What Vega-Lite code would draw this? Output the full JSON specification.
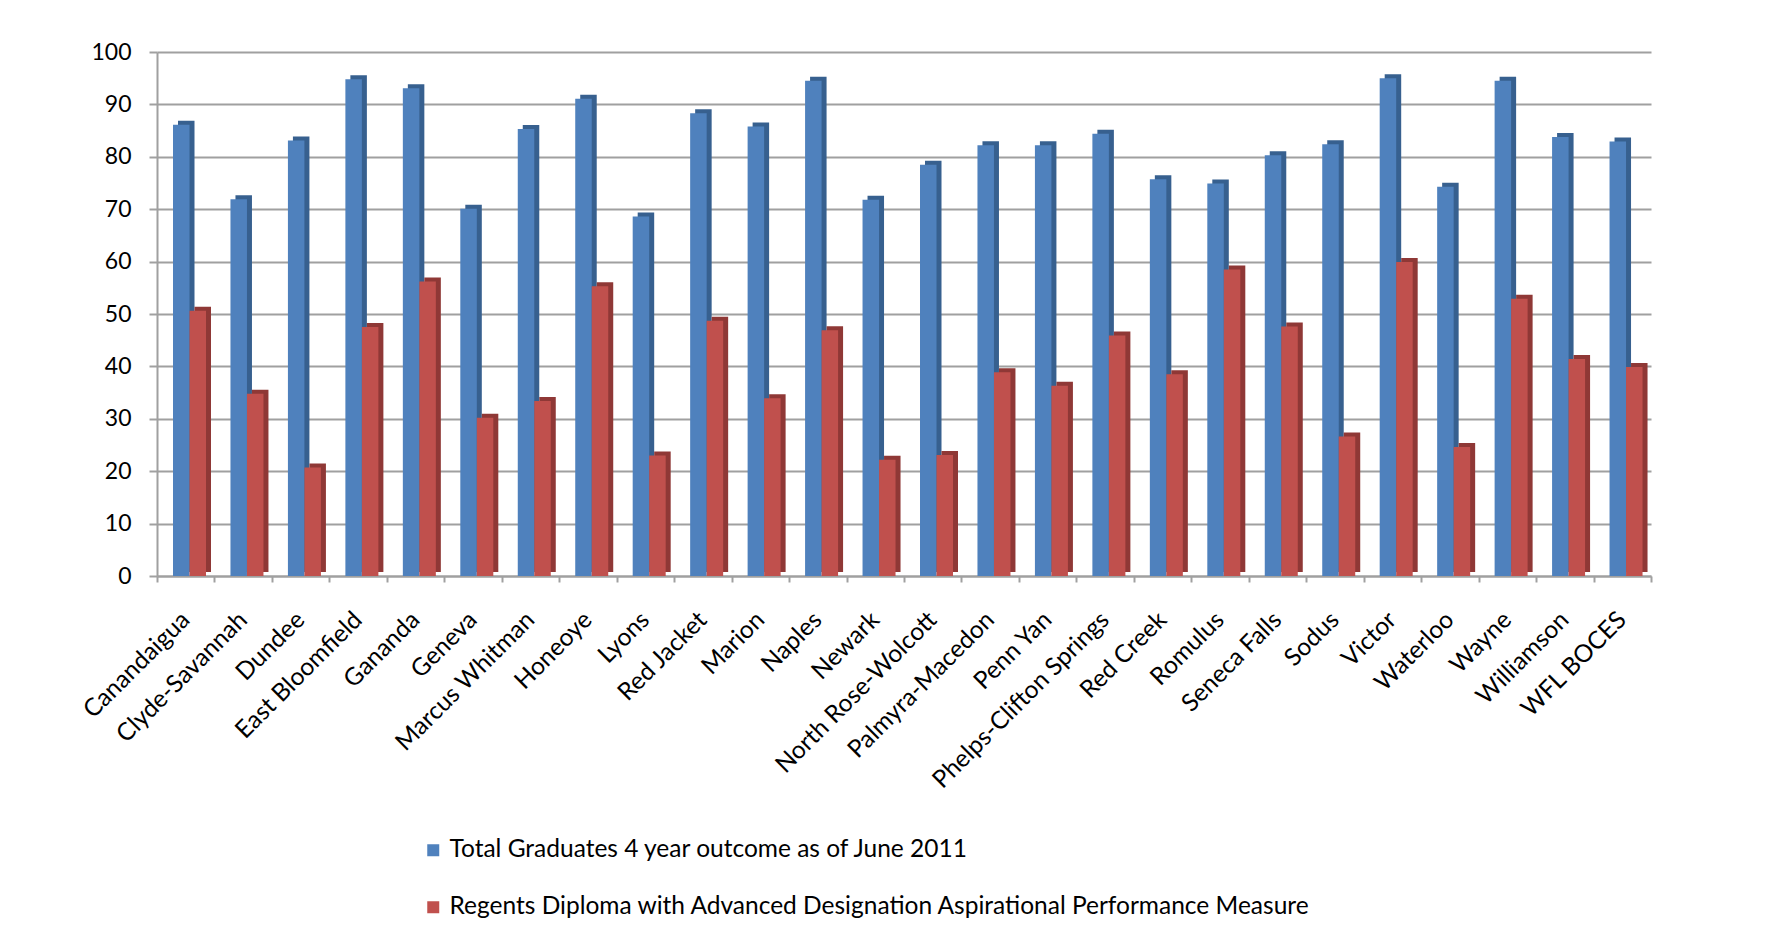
{
  "$schema": "https://vega.github.io/schema/vega-lite/v6.json",
  "width": 1494,
  "height": 524,
  "autosize": {"type": "none"},
  "padding": {"left": 157, "top": 52, "right": 130, "bottom": 373},
  "background": "white",
  "config": {"view": {"stroke": null}, "font": "Lato"},
  "data": {
    "values": [
      {"district": "Canandaigua", "Total Graduates 4 year outcome as of June 2011": 86.1, "Regents Diploma with Advanced Designation Aspirational Performance Measure": 50.6},
      {"district": "Clyde-Savannah", "Total Graduates 4 year outcome as of June 2011": 71.9, "Regents Diploma with Advanced Designation Aspirational Performance Measure": 34.8},
      {"district": "Dundee", "Total Graduates 4 year outcome as of June 2011": 83.1, "Regents Diploma with Advanced Designation Aspirational Performance Measure": 20.7},
      {"district": "East Bloomfield", "Total Graduates 4 year outcome as of June 2011": 94.8, "Regents Diploma with Advanced Designation Aspirational Performance Measure": 47.5},
      {"district": "Gananda", "Total Graduates 4 year outcome as of June 2011": 93.1, "Regents Diploma with Advanced Designation Aspirational Performance Measure": 56.2},
      {"district": "Geneva", "Total Graduates 4 year outcome as of June 2011": 70.1, "Regents Diploma with Advanced Designation Aspirational Performance Measure": 30.2},
      {"district": "Marcus Whitman", "Total Graduates 4 year outcome as of June 2011": 85.3, "Regents Diploma with Advanced Designation Aspirational Performance Measure": 33.4},
      {"district": "Honeoye", "Total Graduates 4 year outcome as of June 2011": 91.1, "Regents Diploma with Advanced Designation Aspirational Performance Measure": 55.3},
      {"district": "Lyons", "Total Graduates 4 year outcome as of June 2011": 68.6, "Regents Diploma with Advanced Designation Aspirational Performance Measure": 23.0},
      {"district": "Red Jacket", "Total Graduates 4 year outcome as of June 2011": 88.3, "Regents Diploma with Advanced Designation Aspirational Performance Measure": 48.7},
      {"district": "Marion", "Total Graduates 4 year outcome as of June 2011": 85.8, "Regents Diploma with Advanced Designation Aspirational Performance Measure": 33.9},
      {"district": "Naples", "Total Graduates 4 year outcome as of June 2011": 94.5, "Regents Diploma with Advanced Designation Aspirational Performance Measure": 46.9},
      {"district": "Newark", "Total Graduates 4 year outcome as of June 2011": 71.8, "Regents Diploma with Advanced Designation Aspirational Performance Measure": 22.2},
      {"district": "North Rose-Wolcott", "Total Graduates 4 year outcome as of June 2011": 78.5, "Regents Diploma with Advanced Designation Aspirational Performance Measure": 23.1},
      {"district": "Palmyra-Macedon", "Total Graduates 4 year outcome as of June 2011": 82.2, "Regents Diploma with Advanced Designation Aspirational Performance Measure": 38.9},
      {"district": "Penn Yan", "Total Graduates 4 year outcome as of June 2011": 82.2, "Regents Diploma with Advanced Designation Aspirational Performance Measure": 36.3},
      {"district": "Phelps-Clifton Springs", "Total Graduates 4 year outcome as of June 2011": 84.4, "Regents Diploma with Advanced Designation Aspirational Performance Measure": 45.9},
      {"district": "Red Creek", "Total Graduates 4 year outcome as of June 2011": 75.7, "Regents Diploma with Advanced Designation Aspirational Performance Measure": 38.5},
      {"district": "Romulus", "Total Graduates 4 year outcome as of June 2011": 74.9, "Regents Diploma with Advanced Designation Aspirational Performance Measure": 58.5},
      {"district": "Seneca Falls", "Total Graduates 4 year outcome as of June 2011": 80.3, "Regents Diploma with Advanced Designation Aspirational Performance Measure": 47.6},
      {"district": "Sodus", "Total Graduates 4 year outcome as of June 2011": 82.4, "Regents Diploma with Advanced Designation Aspirational Performance Measure": 26.6},
      {"district": "Victor", "Total Graduates 4 year outcome as of June 2011": 95.0, "Regents Diploma with Advanced Designation Aspirational Performance Measure": 59.9},
      {"district": "Waterloo", "Total Graduates 4 year outcome as of June 2011": 74.3, "Regents Diploma with Advanced Designation Aspirational Performance Measure": 24.6},
      {"district": "Wayne", "Total Graduates 4 year outcome as of June 2011": 94.5, "Regents Diploma with Advanced Designation Aspirational Performance Measure": 52.9},
      {"district": "Williamson", "Total Graduates 4 year outcome as of June 2011": 83.8, "Regents Diploma with Advanced Designation Aspirational Performance Measure": 41.4},
      {"district": "WFL BOCES", "Total Graduates 4 year outcome as of June 2011": 82.9, "Regents Diploma with Advanced Designation Aspirational Performance Measure": 39.9}
    ]
  },
  "transform": [
    {"fold": ["Total Graduates 4 year outcome as of June 2011", "Regents Diploma with Advanced Designation Aspirational Performance Measure"], "as": ["series", "value"]}
  ],
  "encoding": {
    "x": {
      "field": "district",
      "type": "nominal",
      "sort": null,
      "scale": {"paddingInner": 0, "paddingOuter": 0},
      "axis": {
        "title": null,
        "labelAngle": -45,
        "labelAlign": "right",
        "labelBaseline": "middle",
        "labelFontSize": 24.5,
        "labelFont": "Lato",
        "labelColor": "black",
        "labelPadding": 34,
        "labelLimit": 400,
        "tickBand": "extent",
        "tickSize": 6,
        "tickColor": "#a0a0a0",
        "tickWidth": 2,
        "domainColor": "#a0a0a0",
        "domainWidth": 2,
        "grid": false
      }
    },
    "y": {
      "field": "value",
      "type": "quantitative",
      "scale": {"domain": [0, 100], "nice": false},
      "axis": {
        "title": null,
        "values": [0, 10, 20, 30, 40, 50, 60, 70, 80, 90, 100],
        "grid": true,
        "gridColor": "#a0a0a0",
        "gridWidth": 2,
        "domainColor": "#a0a0a0",
        "domainWidth": 2,
        "tickColor": "#a0a0a0",
        "tickWidth": 2,
        "tickSize": 8,
        "labelFontSize": 23,
        "labelFont": "Lato",
        "labelColor": "black",
        "labelPadding": 18
      }
    }
  },
  "layer": [
    {
      "mark": {"type": "bar", "yOffset": -4, "y2Offset": -4},
      "encoding": {
        "xOffset": {
          "field": "series",
          "type": "nominal",
          "scale": {
            "domain": ["Total Graduates 4 year outcome as of June 2011", "Regents Diploma with Advanced Designation Aspirational Performance Measure"],
            "range": [21, 54],
            "paddingInner": 0,
            "paddingOuter": 0
          }
        },
        "color": {
          "field": "series",
          "type": "nominal",
          "scale": {
            "domain": ["Total Graduates 4 year outcome as of June 2011", "Regents Diploma with Advanced Designation Aspirational Performance Measure"],
            "range": ["#37608f", "#8f3836"]
          },
          "legend": null
        }
      }
    },
    {
      "mark": {"type": "bar"},
      "encoding": {
        "xOffset": {
          "field": "series",
          "type": "nominal",
          "scale": {
            "domain": ["Total Graduates 4 year outcome as of June 2011", "Regents Diploma with Advanced Designation Aspirational Performance Measure"],
            "range": [16, 49],
            "paddingInner": 0,
            "paddingOuter": 0
          }
        },
        "color": {
          "field": "series",
          "type": "nominal",
          "scale": {
            "domain": ["Total Graduates 4 year outcome as of June 2011", "Regents Diploma with Advanced Designation Aspirational Performance Measure"],
            "range": ["#4f81bd", "#c0504d"]
          },
          "legend": {
            "title": null,
            "orient": "none",
            "legendX": 264,
            "legendY": 786,
            "direction": "vertical",
            "symbolType": "square",
            "symbolSize": 144,
            "symbolStrokeWidth": 0,
            "labelFontSize": 24.5,
            "labelFont": "Lato",
            "labelColor": "black",
            "labelLimit": 1200,
            "labelOffset": 4,
            "rowPadding": 32,
            "padding": 0
          }
        }
      }
    }
  ],
  "resolve": {"scale": {"xOffset": "independent", "color": "independent"}, "legend": {"color": "independent"}}
}
